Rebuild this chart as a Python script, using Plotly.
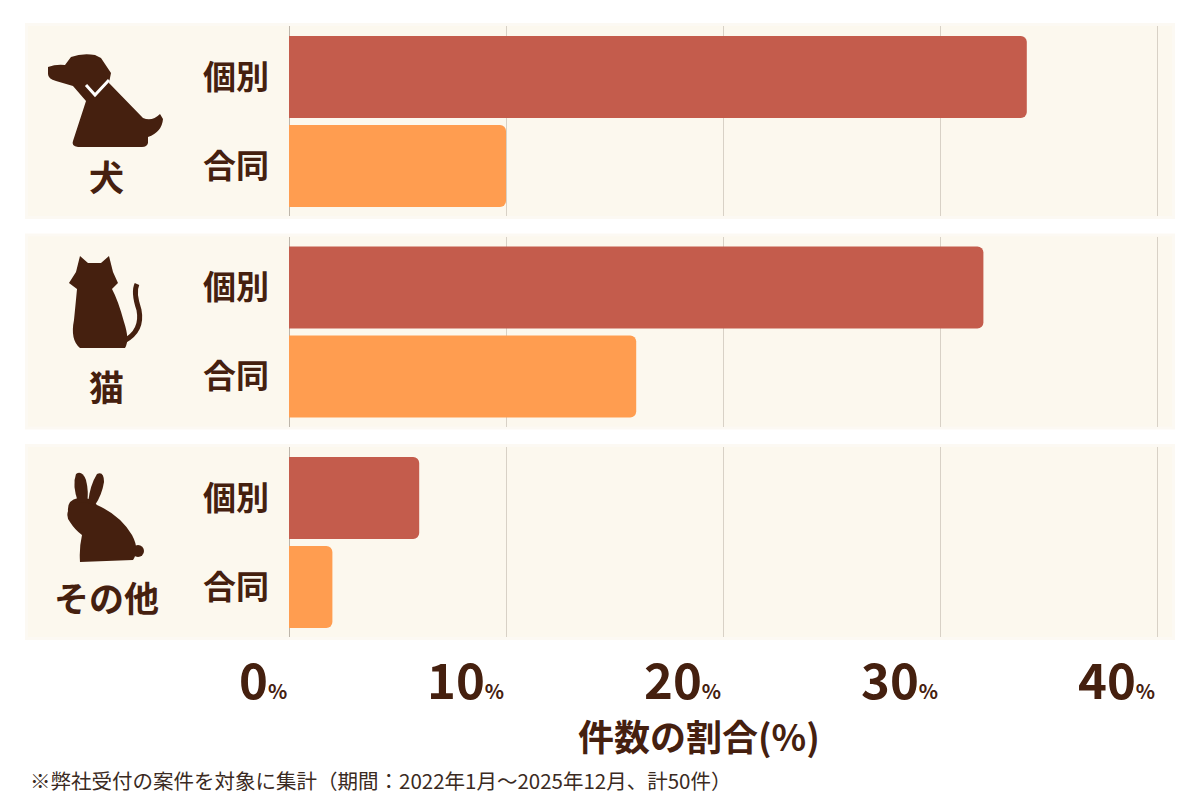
import re
import plotly.graph_objects as go

# ---------------- data ----------------
categories = ["犬", "猫", "その他"]
sub_labels = ["個別", "合同"]
individual = [34, 32, 6]      # % of cases, 個別
joint = [10, 16, 2]           # % of cases, 合同
x_ticks = [0, 10, 20, 30, 40]
axis_title = "件数の割合(%)"
footnote = "※弊社受付の案件を対象に集計（期間：2022年1月～2025年12月、計50件）"

# ---------------- style ----------------
OFF = 8                      # page margin of the browser body
W, H = 1200 - OFF, 800 - OFF
C_IND = "#C45C4C"
C_JOINT = "#FF9D50"
BROWN = "#45200F"
PANEL = "#FCF8EE"
GRID = "#D8D1C6"
FONT = "Noto Sans CJK JP"

X0_PX, X40_PX = 289, 1157
PX_PER = (X40_PX - X0_PX) / 40.0
PLOT_R = 1178
PANEL_L, PANEL_R = 28, 1172
PANEL_TOP0, PITCH, PANEL_H = 26, 210.5, 190
FIRST_C, UNIT = 51, 89


def px(x):
    return (x - OFF) / W


def py(y):
    return 1 - (y - OFF) / H


def path_px(s):
    toks = re.findall(r"[A-Za-z]|-?\d+\.?\d*", s)
    out, nums = [], []
    for t in toks:
        if t.isalpha():
            out.append(t)
        else:
            nums.append(float(t))
            if len(nums) == 2:
                out.append(f"{px(nums[0]):.5f},{py(nums[1]):.5f}")
                nums = []
    return " ".join(out)


fig = go.Figure()
layout = dict(
    width=W, height=H,
    margin=dict(l=0, r=0, t=0, b=0),
    paper_bgcolor="white",
    plot_bgcolor="rgba(0,0,0,0)",
    showlegend=False,
    barmode="overlay",
    bargap=1 - 82 / UNIT,
    font=dict(family=FONT, color=BROWN),
)
shapes = []
annotations = []

for g, cat in enumerate(categories):
    top = PANEL_TOP0 + g * PITCH
    bottom = top + PANEL_H
    sfx = "" if g == 0 else str(g + 1)
    xa, ya = "x" + sfx, "y" + sfx
    fig.add_trace(go.Bar(
        x=[individual[g], joint[g]],
        y=sub_labels,
        orientation="h",
        xaxis=xa, yaxis=ya,
        marker=dict(color=[C_IND, C_JOINT], line=dict(width=0), cornerradius=6),
        hoverinfo="x+y",
    ))
    layout["xaxis" + sfx] = dict(
        domain=[px(X0_PX), px(PLOT_R)],
        range=[0, (PLOT_R - X0_PX) / PX_PER],
        anchor=ya,
        tickvals=x_ticks,
        showticklabels=False,
        showgrid=True, gridcolor=GRID, gridwidth=1,
        zeroline=True, zerolinecolor="#BDB5AA", zerolinewidth=1,
        showline=False, ticks="", fixedrange=True,
    )
    layout["yaxis" + sfx] = dict(
        domain=[py(bottom), py(top)],
        anchor=xa,
        type="category",
        categoryorder="array", categoryarray=sub_labels,
        range=[(PANEL_H - FIRST_C) / UNIT, -FIRST_C / UNIT],
        showgrid=False, zeroline=False, showline=False, ticks="",
        ticklabelstandoff=19,
        tickfont=dict(size=33, color=BROWN, family=FONT, weight=700),
        fixedrange=True,
    )
    # panel background (soft edge + body)
    shapes.append(dict(type="rect", xref="paper", yref="paper", layer="below",
                       x0=px(PANEL_L - 3), x1=px(PANEL_R + 3),
                       y0=py(bottom + 3), y1=py(top - 3),
                       fillcolor="rgba(248,242,228,0.45)", line=dict(width=0)))
    shapes.append(dict(type="rect", xref="paper", yref="paper", layer="below",
                       x0=px(PANEL_L), x1=px(PANEL_R), y0=py(bottom), y1=py(top),
                       fillcolor=PANEL, line=dict(width=0)))
    # group label
    annotations.append(dict(
        text=cat, xref="paper", yref="paper", x=px(106), y=py(top + 149),
        xanchor="center", yanchor="middle", showarrow=False,
        font=dict(size=35, color=BROWN, family=FONT, weight=700),
    ))

# ---------------- icons ----------------
icon_paths = [
    # dog
    "M 48 67 Q 56 64 65 65 L 71 57 Q 82 53 95 55 L 101 58 L 111 73 L 109 83 "
    "L 143 118 Q 152 122 160 114 L 163 119 Q 162 132 148 137 L 148 143 "
    "Q 147 147 142 147 L 78 147 Q 71 146 73 141 L 86 101 L 73 86 L 56 81 "
    "Q 48 79 48 74 Z",
    # cat
    "M 80 256 L 88 263 L 101 263 L 109 256 L 113 272 L 118 283 L 112 289 "
    "Q 118 300 124 322 Q 130 340 125 348 L 80 348 Q 70 340 74 320 Q 76 300 77 289 "
    "L 69 283 L 76 272 Z",
    # rabbit body
    "M 68 511 Q 67 500 78 498 Q 90 496 97 505 Q 120 515 132 535 Q 140 550 133 560 "
    "L 80 562 Q 79 548 82 535 Q 75 530 70 522 Q 66 517 68 511 Z",
    # rabbit ears
    "M 78 502 Q 72 485 76 474 Q 82 470 86 480 Q 89 492 87 503 Z",
    "M 88 503 Q 90 485 97 474 Q 104 471 104 482 Q 102 495 95 505 Z",
]
for p in icon_paths:
    shapes.append(dict(type="path", xref="paper", yref="paper", layer="above",
                       path=path_px(p), fillcolor=BROWN, line=dict(width=0)))
# dog collar
shapes.append(dict(type="path", xref="paper", yref="paper", layer="above",
                   path=path_px("M 86 85 L 95 95 L 109 80"),
                   line=dict(color="white", width=3)))
# cat tail
shapes.append(dict(type="path", xref="paper", yref="paper", layer="above",
                   path=path_px("M 124 341 Q 143 331 139 310 Q 133 292 137 284"),
                   line=dict(color=BROWN, width=5)))
# rabbit tail
shapes.append(dict(type="circle", xref="paper", yref="paper", layer="above",
                   x0=px(132), x1=px(144), y0=py(557), y1=py(545),
                   fillcolor=BROWN, line=dict(width=0)))

# ---------------- x tick labels ----------------
for v in x_ticks:
    annotations.append(dict(
        text=f"{v}<span style='font-size:20px'>%</span>",
        xref="x3", yref="paper", x=v, y=py(677),
        xanchor="right", yanchor="middle", showarrow=False,
        font=dict(size=49, color=BROWN, family=FONT, weight=700),
    ))

annotations.append(dict(
    text=axis_title, xref="paper", yref="paper", x=px(699), y=py(735),
    xanchor="center", yanchor="middle", showarrow=False,
    font=dict(size=36, color=BROWN, family=FONT, weight=700),
))
annotations.append(dict(
    text=footnote, xref="paper", yref="paper", x=px(28), y=py(780),
    xanchor="left", yanchor="middle", showarrow=False,
    font=dict(size=20.5, color="#3A2A22", family=FONT),
))

layout["shapes"] = shapes
layout["annotations"] = annotations
fig.update_layout(**layout)
fig.write_html("out.html")
